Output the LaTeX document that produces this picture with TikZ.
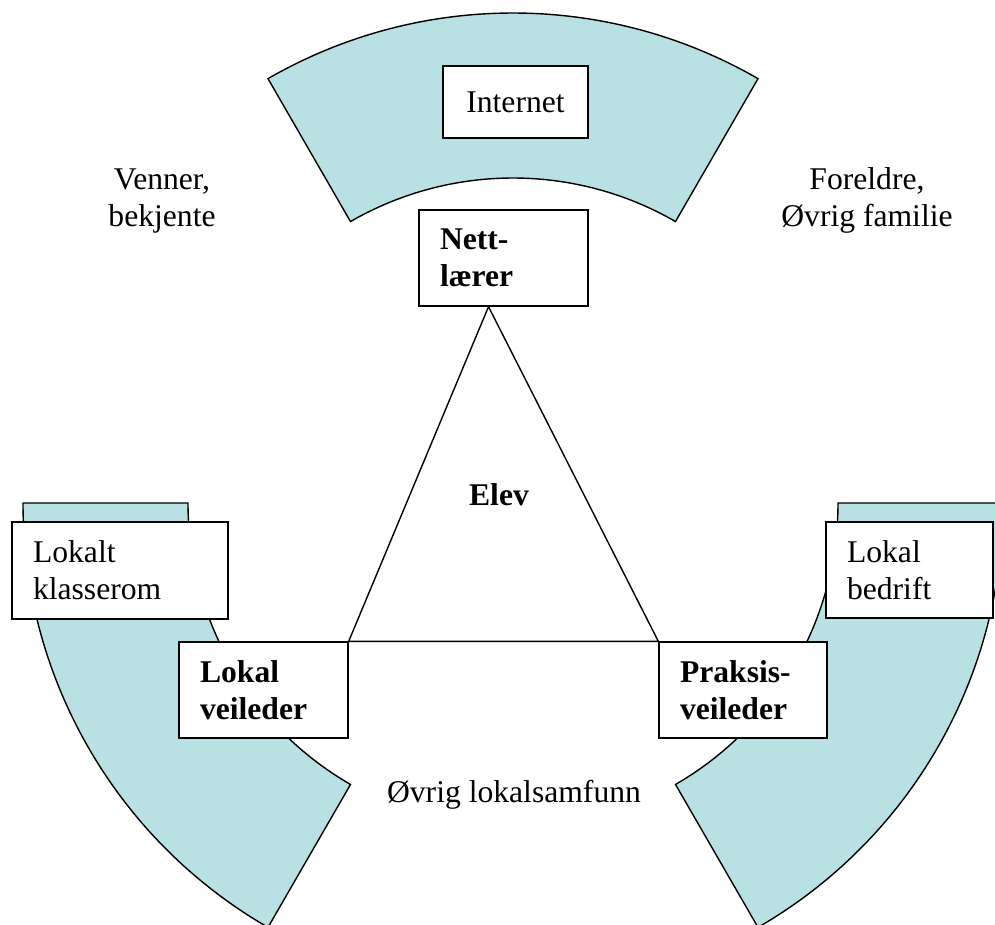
\documentclass[tikz,border=0pt]{standalone}
\usepackage{fontspec}
\setmainfont{Liberation Serif}
\definecolor{havblaa}{RGB}{185,224,227}
\newcommand{\skrift}{\fontsize{18}{21}\selectfont}

\begin{document}
\begin{tikzpicture}[x=.02cm,y=.02cm,line width=.8pt,
  boks/.style={draw,fill=white,inner xsep=.42cm,inner ysep=0pt,align=left,font=\skrift},
  rolle/.style={boks,font=\skrift\bfseries},
  fri/.style={align=center,font=\skrift}]
  \useasboundingbox (0,0) rectangle (995,-924);
  \clip (0,0) rectangle (995,-924);
  \coordinate (C) at (513,-503);
  % the three rings round the pupil
  \foreach \a in {60,180,300}
    \draw[fill=havblaa] (C) ++(\a:325) arc[start angle=\a,delta angle=60,radius=325]
      -- ++(\a+60:165) arc[start angle=\a+60,delta angle=-60,radius=490] -- cycle;
  % arenas
  \node[boks,align=center,text width=2.06cm,minimum height=1.44cm] (internet) at (515.5,-102) {Internet\\[-4pt]};
  \node[boks,text width=3.48cm,minimum height=1.94cm] (klasserom) at (120,-570.5) {Lokalt\\klasserom};
  \node[boks,text width=2.50cm,minimum height=1.92cm] (bedrift) at (909.5,-570) {Lokal\\bedrift};
  % roles
  \node[rolle,text width=2.54cm,minimum height=1.92cm] (nett) at (503.5,-258) {Nett-\\lærer};
  \node[rolle,text width=2.54cm,minimum height=1.92cm] (lokal) at (263.5,-690) {Lokal\\veileder};
  \node[rolle,text width=2.52cm,minimum height=1.92cm] (praksis) at (743,-690) {Praksis-\\veileder};
  \draw (lokal.north east) -- ([xshift=-.3cm]nett.south) -- (praksis.north west) -- cycle;
  \node[fri,font=\skrift\bfseries,anchor=base] (elev) at (499,-505) {Elev};
  % people outside the rings
  \node[fri,anchor=base] (venner) at (162,-226) {Venner,\\bekjente};
  \node[fri,anchor=base] (familie) at (867,-226) {Foreldre,\\Øvrig familie};
  \node[fri,anchor=base] (samfunn) at (514,-802) {Øvrig lokalsamfunn};
\end{tikzpicture}
\end{document}
